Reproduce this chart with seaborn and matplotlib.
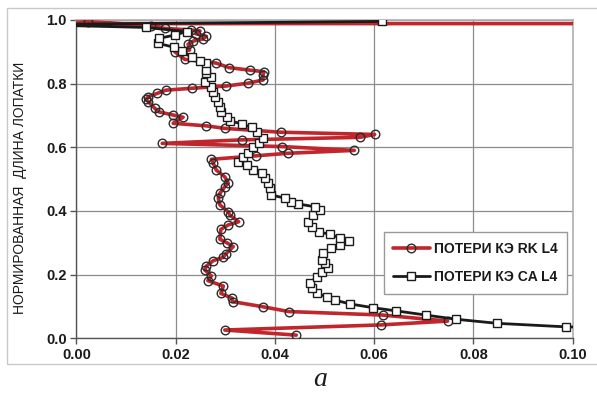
import matplotlib
matplotlib.use("Agg")
import matplotlib.pyplot as plt
import seaborn as sns
from matplotlib.patches import Rectangle

# ---- data ----
rk_x = [0.0443, 0.0299, 0.0613, 0.0748, 0.0617, 0.0428, 0.0376, 0.0315, 0.0314, 0.0291,
        0.0296, 0.0265, 0.0272, 0.0259, 0.0262, 0.0276, 0.0296, 0.0301, 0.0316, 0.0303,
        0.0289, 0.0291, 0.0306, 0.0327, 0.0309, 0.0306, 0.0289, 0.0286, 0.0289, 0.0299,
        0.0306, 0.0299, 0.0282, 0.0276, 0.0272, 0.0362, 0.0427, 0.0560, 0.0415, 0.0173,
        0.0333, 0.0571, 0.0601, 0.0412, 0.0300, 0.0262, 0.0195, 0.0215, 0.0195, 0.0166,
        0.0158, 0.0145, 0.0140, 0.0145, 0.0163, 0.0180, 0.0232, 0.0301, 0.0346, 0.0376,
        0.0376, 0.0378, 0.0349, 0.0307, 0.0282, 0.0218, 0.0198, 0.0228, 0.0225, 0.0235,
        0.0255, 0.0262, 0.0241, 0.0249, 0.0230, 0.0178, 0.0151, 0.0024, -0.005, 0.200]
rk_y = [0.010, 0.026, 0.042, 0.054, 0.073, 0.084, 0.099, 0.115, 0.126, 0.141,
        0.164, 0.181, 0.196, 0.214, 0.227, 0.244, 0.254, 0.265, 0.288, 0.300,
        0.311, 0.342, 0.356, 0.366, 0.387, 0.397, 0.419, 0.440, 0.455, 0.476,
        0.487, 0.507, 0.528, 0.549, 0.562, 0.573, 0.581, 0.590, 0.602, 0.612,
        0.623, 0.631, 0.640, 0.647, 0.659, 0.667, 0.675, 0.694, 0.701, 0.711,
        0.722, 0.743, 0.750, 0.759, 0.769, 0.779, 0.785, 0.792, 0.801, 0.811,
        0.827, 0.837, 0.842, 0.850, 0.864, 0.876, 0.900, 0.905, 0.923, 0.933,
        0.940, 0.948, 0.956, 0.965, 0.968, 0.973, 0.982, 0.994, 0.988, 0.988]

ca_x = [0.1250, 0.0986, 0.0848, 0.0764, 0.0704, 0.0645, 0.0598, 0.0551, 0.0521, 0.0504,
        0.0484, 0.0474, 0.0470, 0.0484, 0.0494, 0.0507, 0.0500, 0.0494, 0.0497, 0.0514,
        0.0532, 0.0549, 0.0532, 0.0512, 0.0489, 0.0474, 0.0467, 0.0477, 0.0490, 0.0480,
        0.0447, 0.0433, 0.0420, 0.0393, 0.0390, 0.0386, 0.0380, 0.0373, 0.0356, 0.0343,
        0.0326, 0.0336, 0.0345, 0.0355, 0.0368, 0.0376, 0.0363, 0.0353, 0.0333, 0.0309,
        0.0303, 0.0292, 0.0289, 0.0286, 0.0279, 0.0276, 0.0272, 0.0259, 0.0272, 0.0262,
        0.0262, 0.0262, 0.0249, 0.0232, 0.0212, 0.0196, 0.0165, 0.0167, 0.0198, 0.0222,
        0.0140, -0.010, 0.0615]
ca_y = [0.028, 0.036, 0.047, 0.060, 0.073, 0.086, 0.096, 0.108, 0.120, 0.131,
        0.141, 0.157, 0.173, 0.193, 0.209, 0.220, 0.235, 0.246, 0.267, 0.283,
        0.293, 0.305, 0.314, 0.327, 0.333, 0.350, 0.366, 0.387, 0.403, 0.413,
        0.422, 0.429, 0.440, 0.450, 0.471, 0.487, 0.502, 0.518, 0.528, 0.544,
        0.554, 0.570, 0.581, 0.600, 0.614, 0.628, 0.649, 0.662, 0.673, 0.683,
        0.696, 0.711, 0.727, 0.743, 0.759, 0.774, 0.790, 0.806, 0.821, 0.832,
        0.842, 0.863, 0.871, 0.884, 0.903, 0.914, 0.926, 0.942, 0.952, 0.963,
        0.976, 0.985, 0.995]

labels = ["ПОТЕРИ КЭ RK L4", "ПОТЕРИ КЭ CA L4"]
x_ticks = [0.00, 0.02, 0.04, 0.06, 0.08, 0.10]
y_ticks = [0.0, 0.2, 0.4, 0.6, 0.8, 1.0]

sns.set_theme(style="white")
plt.rcParams['font.family'] = ['Liberation Sans', 'DejaVu Sans']

fig = plt.figure(figsize=(5.97, 3.96), dpi=100)
ax = fig.add_axes([0.128, 0.1457, 0.8312, 0.8043])

sns.lineplot(x=rk_x, y=rk_y, sort=False, estimator=None, ax=ax,
             color='#c0262c', linewidth=2.6, marker='o', markersize=6.2,
             markerfacecolor='none', markeredgecolor='#2b2b2b', markeredgewidth=1.0,
             label=labels[0], zorder=3)
sns.lineplot(x=ca_x, y=ca_y, sort=False, estimator=None, ax=ax,
             color='#1a1a1a', linewidth=2.0, marker='s', markersize=6.0,
             markerfacecolor='white', markeredgecolor='#1a1a1a', markeredgewidth=1.0,
             label=labels[1], zorder=4)

ax.set_xlim(0, 0.10)
ax.set_ylim(0, 1.0)
ax.set_xticks(x_ticks)
ax.set_yticks(y_ticks)
ax.set_xticklabels([f"{v:.2f}" for v in x_ticks])
ax.set_yticklabels([f"{v:.1f}" for v in y_ticks])
ax.grid(True, color='#8c8c8c', linewidth=0.9)
ax.set_axisbelow(True)
for s in ['left', 'bottom']:
    ax.spines[s].set_color('#555555')
    ax.spines[s].set_linewidth(1.0)
for s in ['top', 'right']:
    ax.spines[s].set_color('#b0b0b0')
    ax.spines[s].set_linewidth(1.2)
ax.tick_params(direction='out', length=4, width=1, color='#555555',
               labelsize=10.5, pad=3, bottom=True, left=True)
for t in ax.get_xticklabels() + ax.get_yticklabels():
    t.set_fontweight('bold')
    t.set_color('#1a1a1a')
ax.set_xlabel('')
ax.set_ylabel('')

leg = ax.legend(loc='upper right', bbox_to_anchor=(0.989, 0.333), frameon=True,
                fancybox=False, edgecolor='#999999', framealpha=1,
                prop={'weight': 'bold', 'size': 10}, handlelength=2.6,
                borderpad=0.7, labelspacing=1.0, handletextpad=0.3,
                borderaxespad=0)
leg.get_frame().set_linewidth(1.0)
for t in leg.get_texts():
    t.set_color('#1a1a1a')

fig.text(0.034, 1 - 188 / 396, "НОРМИРОВАННАЯ  ДЛИНА ЛОПАТКИ", rotation=90,
         ha='center', va='center', fontsize=10, color='#1a1a1a')
fig.text(0.536, 0.025, "a", ha='center', va='baseline', fontsize=20,
         family=['Liberation Serif', 'DejaVu Serif'], style='italic', color='#1a1a1a')

fig.add_artist(Rectangle((7 / 597, 1 - 364 / 396), 1.0, (364 - 8) / 396,
                         transform=fig.transFigure, fill=False,
                         edgecolor='#c8c8c8', linewidth=1.0))

fig.savefig('out.png', dpi=100)
